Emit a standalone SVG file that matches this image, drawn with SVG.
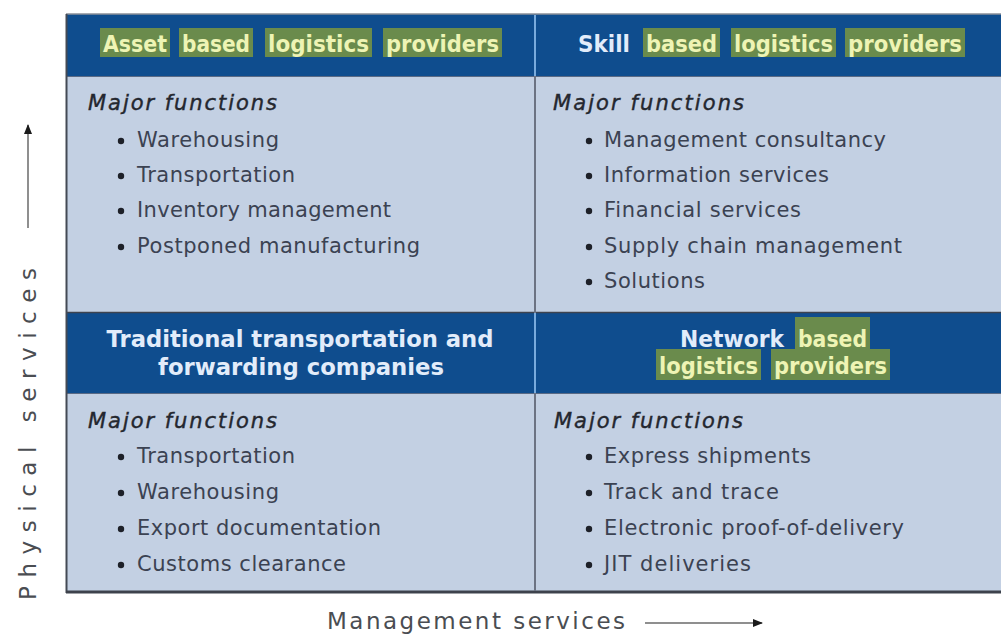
<svg xmlns="http://www.w3.org/2000/svg" width="1001" height="634" viewBox="0 0 1001 634">
  <defs>
    <style>
      .hdr { fill: #0f4d8e; }
      .body { fill: #c3d0e3; }
      .hl { fill: #6a8b4c; }
      .ht { font-family: "DejaVu Sans", "Liberation Sans", sans-serif; font-weight: bold; font-size: 23px; fill: #eef4b4; }
      .wt { font-family: "DejaVu Sans", "Liberation Sans", sans-serif; font-weight: bold; font-size: 23px; fill: #e2ecfa; }
      .mf { font-family: "DejaVu Sans", "Liberation Sans", sans-serif; font-style: italic; font-size: 21px; fill: #24272f; stroke: #24272f; stroke-width: 0.4px; }
      .it { font-family: "DejaVu Sans", "Liberation Sans", sans-serif; font-size: 21px; fill: #3b4252; }
      .bl { fill: #1d2028; }
      .ax { font-family: "DejaVu Sans", "Liberation Sans", sans-serif; font-size: 23px; fill: #4a4d52; }
    </style>
    <marker id="arr" markerWidth="10" markerHeight="8" refX="9" refY="4" orient="auto" markerUnits="userSpaceOnUse">
      <path d="M0,0 L10,4 L0,8 Z" fill="#1a1a1a"/>
    </marker>
  </defs>

  <rect width="1001" height="634" fill="#ffffff"/>

  <!-- table frame -->
  <g id="frame">
    <rect class="body" x="66" y="76" width="935" height="237"/>
    <rect class="body" x="66" y="393" width="935" height="199"/>
    <rect class="hdr" x="66" y="14" width="935" height="62"/>
    <rect class="hdr" x="66" y="313" width="935" height="80"/>
    <line x1="66" y1="14" x2="1001" y2="14" stroke="#8a8f99" stroke-width="1.5"/>
    <line x1="66" y1="76.5" x2="1001" y2="76.5" stroke="#5a6a85" stroke-width="1"/>
    <line x1="66" y1="312.5" x2="1001" y2="312.5" stroke="#3d4350" stroke-width="1.5"/>
    <line x1="66" y1="393.5" x2="1001" y2="393.5" stroke="#5a6a85" stroke-width="1"/>
    <line x1="66.5" y1="14" x2="66.5" y2="593" stroke="#444a55" stroke-width="2"/>
    <line x1="66" y1="592" x2="1001" y2="592" stroke="#3d424c" stroke-width="3"/>
    <line x1="535" y1="76" x2="535" y2="313" stroke="#6c7383" stroke-width="2"/>
    <line x1="535" y1="393" x2="535" y2="591" stroke="#6c7383" stroke-width="2"/>
    <line x1="535" y1="15" x2="535" y2="76" stroke="#79abdd" stroke-width="2"/>
    <line x1="535" y1="313" x2="535" y2="393" stroke="#79abdd" stroke-width="2"/>
  </g>

  <!-- top-left quadrant -->
  <g id="asset-based">
    <rect class="hl" x="100" y="28" width="70" height="29"/>
    <rect class="hl" x="179" y="28" width="74" height="29"/>
    <rect class="hl" x="265" y="28" width="107" height="29"/>
    <rect class="hl" x="383" y="28" width="119" height="29"/>
    <text class="ht" x="103" y="52" textLength="64" lengthAdjust="spacingAndGlyphs">Asset</text>
    <text class="ht" x="182" y="52" textLength="68" lengthAdjust="spacingAndGlyphs">based</text>
    <text class="ht" x="268" y="52" textLength="101" lengthAdjust="spacingAndGlyphs">logistics</text>
    <text class="ht" x="386" y="52" textLength="113" lengthAdjust="spacingAndGlyphs">providers</text>
    <text class="mf" x="88" y="110" textLength="189">Major functions</text>
    <circle class="bl" cx="121" cy="141" r="3.2"/>
    <text class="it" x="137" y="147" textLength="142">Warehousing</text>
    <circle class="bl" cx="121" cy="176" r="3.2"/>
    <text class="it" x="137" y="182" textLength="158">Transportation</text>
    <circle class="bl" cx="121" cy="211" r="3.2"/>
    <text class="it" x="137" y="217" textLength="254">Inventory management</text>
    <circle class="bl" cx="121" cy="247" r="3.2"/>
    <text class="it" x="137" y="253" textLength="283">Postponed manufacturing</text>
  </g>

  <!-- top-right quadrant -->
  <g id="skill-based">
    <rect class="hl" x="643" y="28" width="77" height="29"/>
    <rect class="hl" x="731" y="28" width="105" height="29"/>
    <rect class="hl" x="845" y="28" width="120" height="29"/>
    <text class="wt" x="578" y="52" textLength="52" lengthAdjust="spacingAndGlyphs">Skill</text>
    <text class="ht" x="646" y="52" textLength="71" lengthAdjust="spacingAndGlyphs">based</text>
    <text class="ht" x="734" y="52" textLength="99" lengthAdjust="spacingAndGlyphs">logistics</text>
    <text class="ht" x="848" y="52" textLength="114" lengthAdjust="spacingAndGlyphs">providers</text>
    <text class="mf" x="553" y="110" textLength="191">Major functions</text>
    <circle class="bl" cx="589" cy="141" r="3.2"/>
    <text class="it" x="604" y="147" textLength="282">Management consultancy</text>
    <circle class="bl" cx="589" cy="176" r="3.2"/>
    <text class="it" x="604" y="182" textLength="225">Information services</text>
    <circle class="bl" cx="589" cy="211" r="3.2"/>
    <text class="it" x="604" y="217" textLength="197">Financial services</text>
    <circle class="bl" cx="589" cy="247" r="3.2"/>
    <text class="it" x="604" y="253" textLength="298">Supply chain management</text>
    <circle class="bl" cx="589" cy="282" r="3.2"/>
    <text class="it" x="604" y="288" textLength="101">Solutions</text>
  </g>

  <!-- bottom-left quadrant -->
  <g id="traditional">
    <text class="wt" x="300" y="347" text-anchor="middle" textLength="387" lengthAdjust="spacingAndGlyphs">Traditional transportation and</text>
    <text class="wt" x="301" y="375" text-anchor="middle" textLength="286" lengthAdjust="spacingAndGlyphs">forwarding companies</text>
    <text class="mf" x="88" y="428" textLength="189">Major functions</text>
    <circle class="bl" cx="121" cy="457" r="3.2"/>
    <text class="it" x="137" y="463" textLength="158">Transportation</text>
    <circle class="bl" cx="121" cy="493" r="3.2"/>
    <text class="it" x="137" y="499" textLength="142">Warehousing</text>
    <circle class="bl" cx="121" cy="529" r="3.2"/>
    <text class="it" x="137" y="535" textLength="244">Export documentation</text>
    <circle class="bl" cx="121" cy="565" r="3.2"/>
    <text class="it" x="137" y="571" textLength="209">Customs clearance</text>
  </g>

  <!-- bottom-right quadrant -->
  <g id="network-based">
    <rect class="hl" x="795" y="317" width="75" height="32"/>
    <rect class="hl" x="656" y="349" width="105" height="31"/>
    <rect class="hl" x="771" y="349" width="119" height="31"/>
    <text class="wt" x="680" y="347" textLength="104" lengthAdjust="spacingAndGlyphs">Network</text>
    <text class="ht" x="798" y="347" textLength="69" lengthAdjust="spacingAndGlyphs">based</text>
    <text class="ht" x="659" y="374" textLength="99" lengthAdjust="spacingAndGlyphs">logistics</text>
    <text class="ht" x="774" y="374" textLength="113" lengthAdjust="spacingAndGlyphs">providers</text>
    <text class="mf" x="554" y="428" textLength="189">Major functions</text>
    <circle class="bl" cx="589" cy="457" r="3.2"/>
    <text class="it" x="604" y="463" textLength="207">Express shipments</text>
    <circle class="bl" cx="589" cy="493" r="3.2"/>
    <text class="it" x="604" y="499" textLength="175">Track and trace</text>
    <circle class="bl" cx="589" cy="529" r="3.2"/>
    <text class="it" x="604" y="535" textLength="300">Electronic proof-of-delivery</text>
    <circle class="bl" cx="589" cy="565" r="3.2"/>
    <text class="it" x="604" y="571" textLength="147">JIT deliveries</text>
  </g>

  <!-- axes -->
  <g id="connectors">
    <line x1="28" y1="228" x2="28" y2="125" stroke="#6a6a6a" stroke-width="1.5" marker-end="url(#arr)"/>
    <line x1="645" y1="623" x2="762" y2="623" stroke="#6a6a6a" stroke-width="1.5" marker-end="url(#arr)"/>
  </g>
  <g id="axis-labels">
    <text class="ax" transform="translate(36,600) rotate(-90)" textLength="332">Physical services</text>
    <text class="ax" x="327" y="629" textLength="298">Management services</text>
  </g>
</svg>
